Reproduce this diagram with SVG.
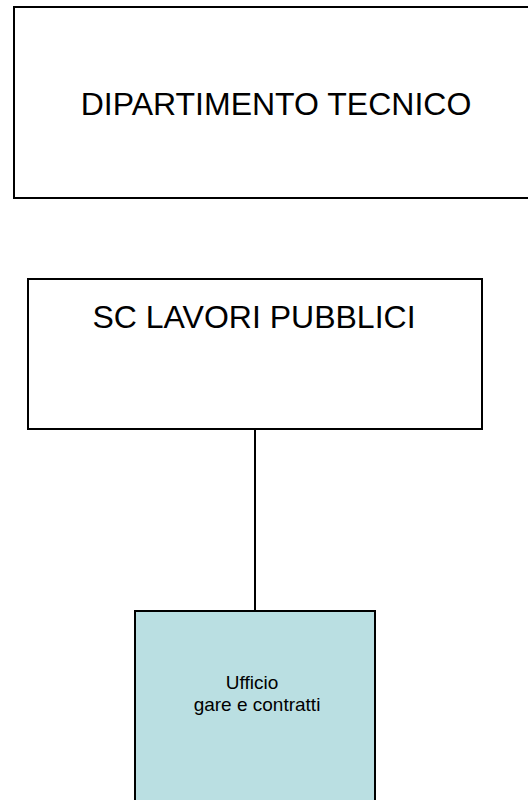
<svg xmlns="http://www.w3.org/2000/svg" width="528" height="800" viewBox="0 0 528 800">
<style>
.box{fill:#ffffff;stroke:#000000;stroke-width:2}
.blue{fill:#badfe2;stroke:#000000;stroke-width:2}
.big{font-family:"Liberation Sans",Arial,sans-serif;font-size:32px;fill:#000000;text-anchor:middle}
.small{font-family:"Liberation Sans",Arial,sans-serif;font-size:19px;fill:#000000;text-anchor:middle}
.conn{stroke:#000000;stroke-width:2;fill:none}
</style>
<rect width="528" height="800" fill="#ffffff"/>
<g id="connectors">
<line class="conn" x1="255" y1="430" x2="255" y2="611"/>
</g>
<g id="dipartimento">
<rect class="box" x="14" y="7" width="530" height="191"/>
<text class="big" x="276" y="115">DIPARTIMENTO TECNICO</text>
</g>
<g id="sc-lavori">
<rect class="box" x="28" y="279" width="454" height="150"/>
<text class="big" x="254" y="328">SC LAVORI PUBBLICI</text>
</g>
<g id="ufficio">
<rect class="blue" x="135" y="611" width="240" height="200"/>
<text class="small" x="252" y="689">Ufficio</text>
<text class="small" x="257" y="711">gare e contratti</text>
</g>
</svg>
